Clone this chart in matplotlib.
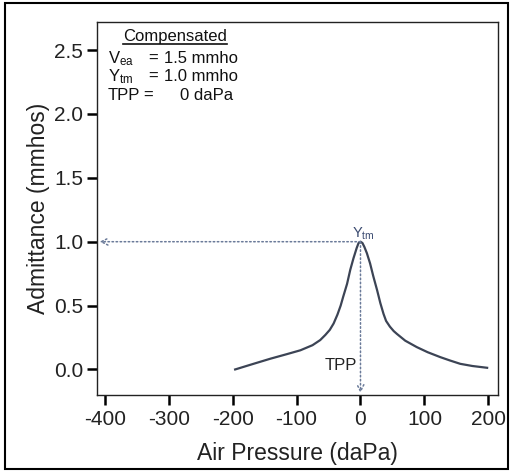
import matplotlib
matplotlib.use("Agg")
import matplotlib.pyplot as plt
from matplotlib.patches import Rectangle

plt.rcParams['font.family'] = ['Liberation Sans', 'DejaVu Sans']
plt.rcParams['mathtext.fontset'] = 'custom'
plt.rcParams['mathtext.rm'] = 'Liberation Sans'
plt.rcParams['mathtext.it'] = 'Liberation Sans'

# Tympanogram data
pressure = [-196, -170, -141, -115, -94, -75, -63, -55, -48, -42, -36, -31, -27, -21, -16, -11, -6, -3, 0,
            3, 6, 10, 15, 20, 26, 31, 36, 40, 46, 52, 57, 70, 88, 105, 125, 140, 156, 175, 198]
admittance = [0.0, 0.04, 0.084, 0.12, 0.15, 0.19, 0.23, 0.27, 0.31, 0.36, 0.43, 0.50, 0.57, 0.67, 0.78,
              0.87, 0.95, 0.99, 1.0,
              0.99, 0.96, 0.91, 0.83, 0.73, 0.62, 0.52, 0.435, 0.38, 0.335, 0.30, 0.278, 0.225,
              0.175, 0.135, 0.096, 0.07, 0.044, 0.027, 0.013]
x_ticks = [-400, -300, -200, -100, 0, 100, 200]
y_ticks = [0.0, 0.5, 1.0, 1.5, 2.0, 2.5]
peak_x = 0
peak_y = 1.0

fig = plt.figure(figsize=(5.15, 4.71), dpi=100)
ax = fig.add_axes([97/515, 1-395/471, 401/515, 373/471])

ax.plot(pressure, admittance, color='#3c4455', lw=1.6)

xmin, xmax = -412, 215
ymin, ymax = -0.2, 2.72
ax.set_xlim(xmin, xmax)
ax.set_ylim(ymin, ymax)

dot_color = '#6a7a99'
ax.annotate('', xy=(-408, peak_y), xytext=(peak_x, peak_y),
            arrowprops=dict(arrowstyle='->', color=dot_color, lw=1.1, linestyle=':',
                            shrinkA=0, shrinkB=0, mutation_scale=12))
ax.annotate('', xy=(peak_x, -0.185), xytext=(peak_x, peak_y),
            arrowprops=dict(arrowstyle='->', color=dot_color, lw=1.1, linestyle=':',
                            shrinkA=0, shrinkB=0, mutation_scale=12))

ax.text(4, 1.065, 'Y$_{\\mathrm{tm}}$', ha='center', va='center', fontsize=10.5, color='#3a4a70')
ax.text(-6, 0.03, 'TPP', ha='right', va='center', fontsize=12, color='#222')

ax.set_xticks(x_ticks)
ax.set_xticklabels([str(v) for v in x_ticks])
ax.set_yticks(y_ticks)
ax.set_yticklabels([f'{v:.1f}' for v in y_ticks])
ax.tick_params(direction='out', length=7, width=1.8, labelsize=15, colors='black',
               labelcolor='#222', pad=3)
ax.tick_params(axis='x', pad=4)
for s in ax.spines.values():
    s.set_linewidth(1.0)
    s.set_color('#222')

ax.set_xlabel('Air Pressure (daPa)', fontsize=16.5, color='#222', labelpad=9)
ax.set_ylabel('Admittance (mmhos)', fontsize=16.5, color='#222', labelpad=3)

# Info box
tc = '#111'
fs = 12
ax.text(0.195, 0.96, 'Compensated', transform=ax.transAxes, ha='center', va='center', fontsize=fs, color=tc)
ax.plot([0.065, 0.324], [0.941, 0.941], transform=ax.transAxes, color='#111', lw=1.2)
ax.text(0.027, 0.903, 'V$_{\\mathrm{ea}}$', transform=ax.transAxes, ha='left', va='center', fontsize=fs, color=tc)
ax.text(0.14, 0.903, '=', transform=ax.transAxes, ha='center', va='center', fontsize=fs, color=tc)
ax.text(0.168, 0.903, '1.5 mmho', transform=ax.transAxes, ha='left', va='center', fontsize=fs, color=tc)
ax.text(0.027, 0.853, 'Y$_{\\mathrm{tm}}$', transform=ax.transAxes, ha='left', va='center', fontsize=fs, color=tc)
ax.text(0.14, 0.853, '=', transform=ax.transAxes, ha='center', va='center', fontsize=fs, color=tc)
ax.text(0.168, 0.853, '1.0 mmho', transform=ax.transAxes, ha='left', va='center', fontsize=fs, color=tc)
ax.text(0.027, 0.804, 'TPP', transform=ax.transAxes, ha='left', va='center', fontsize=fs, color=tc)
ax.text(0.127, 0.804, '=', transform=ax.transAxes, ha='center', va='center', fontsize=fs, color=tc)
ax.text(0.207, 0.804, '0 daPa', transform=ax.transAxes, ha='left', va='center', fontsize=fs, color=tc)

fig.patches.append(Rectangle((5/515, 2/471), 503/515, 466/471, transform=fig.transFigure,
                             fill=False, edgecolor='black', lw=1.5))

fig.savefig('out.png', dpi=100)
